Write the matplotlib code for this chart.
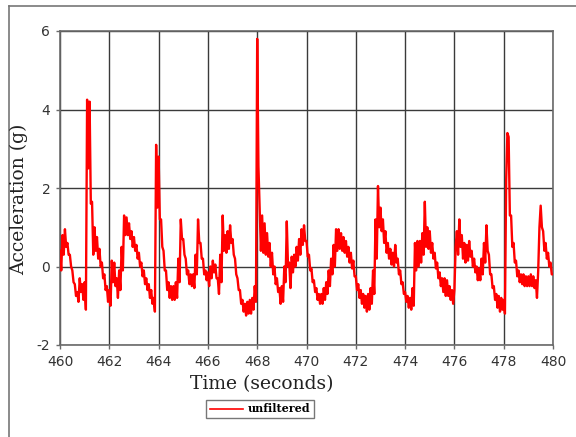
"""Unfiltered acceleration trace, 460-480 s."""

import matplotlib

matplotlib.use("Agg")
import matplotlib.pyplot as plt
import numpy as np
from matplotlib.lines import Line2D

plt.rcParams["axes.unicode_minus"] = False

# readings every 0.05 s, one row per second (noise band alternates high / low)
accel = [
    # 460
    0.4, -0.1, 0.8, 0.3, 0.95, 0.5, 0.6, 0.3, 0.3, 0.0,
    -0.1, -0.4, -0.45, -0.75, -0.65, -0.9, -0.3, -0.65, -0.45, -0.85,
    # 461
    -0.4, -1.1, 4.25, 2.5, 4.2, 1.6, 1.65, 0.3, 1.0, 0.4,
    0.75, 0.2, 0.45, 0.0, 0.1, -0.3, -0.2, -0.6, -0.5, -0.9,
    # 462
    -0.6, -1.0, 0.15, -0.4, 0.1, -0.5, -0.3, -0.8, -0.1, -0.6,
    0.5, -0.1, 1.3, 0.8, 1.25, 0.8, 1.1, 0.7, 0.9, 0.5,
    # 463
    0.75, 0.4, 0.55, 0.2, 0.35, 0.0, 0.1, -0.25, -0.1, -0.45,
    -0.3, -0.6, -0.45, -0.8, -0.6, -0.95, -0.8, -1.15, 3.1, 1.5,
    # 464
    2.8, 1.2, 1.2, 0.5, 0.4, -0.1, -0.1, -0.6, -0.4, -0.8,
    -0.5, -0.85, -0.5, -0.85, -0.4, -0.8, 0.2, -0.4, 1.2, 0.7,
    # 465
    0.7, 0.3, 0.2, -0.2, -0.1, -0.45, -0.2, -0.5, -0.2, -0.55,
    0.3, -0.2, 1.2, 0.6, 0.6, 0.2, 0.2, -0.2, -0.1, -0.35,
    # 466
    -0.15, -0.5, 0.0, -0.3, 0.15, -0.15, 0.05, -0.3, -0.3, -0.7,
    0.3, -0.4, 1.3, 0.4, 0.8, 0.35, 0.9, 0.45, 1.05, 0.6,
    # 467
    0.7, 0.3, 0.2, -0.2, -0.3, -0.6, -0.6, -0.95, -0.85, -1.15,
    -0.95, -1.25, -0.9, -1.2, -0.85, -1.2, -0.8, -1.1, -0.5, -0.9,
    # 468
    5.8, 2.55, 1.45, 0.4, 1.3, 0.35, 1.1, 0.3, 0.85, 0.25,
    0.6, 0.0, 0.35, -0.2, 0.0, -0.45, -0.3, -0.65, -0.55, -0.95,
    # 469
    -0.5, -0.9, 0.0, -0.4, 1.15, 0.0, 0.1, -0.55, 0.25, -0.15,
    0.3, 0.0, 0.5, 0.15, 0.7, 0.3, 0.95, 0.55, 1.05, 0.65,
    # 470
    0.65, 0.25, 0.3, -0.1, -0.05, -0.4, -0.35, -0.65, -0.55, -0.85,
    -0.7, -0.95, -0.7, -0.95, -0.55, -0.85, -0.4, -0.7, -0.1, -0.5,
    # 471
    0.2, -0.2, 0.55, 0.0, 0.95, 0.4, 0.95, 0.45, 0.85, 0.4,
    0.75, 0.35, 0.65, 0.25, 0.5, 0.1, 0.35, -0.05, 0.15, -0.25,
    # 472
    -0.25, -0.6, -0.45, -0.8, -0.6, -0.95, -0.7, -1.05, -0.75, -1.15,
    -0.7, -1.1, -0.55, -0.95, -0.1, -0.7, 1.2, 0.2, 2.05, 1.0,
    # 473
    1.5, 0.9, 1.2, 0.6, 0.9, 0.35, 0.6, 0.2, 0.45, 0.05,
    0.35, 0.0, 0.55, 0.1, 0.2, -0.2, -0.1, -0.45, -0.4, -0.7,
    # 474
    -0.65, -0.9, -0.75, -1.05, -0.8, -1.1, -0.55, -1.0, 0.6, -0.1,
    0.65, 0.0, 0.65, 0.1, 0.85, 0.3, 1.65, 0.5, 1.0, 0.45,
    # 475
    0.9, 0.35, 0.6, 0.2, 0.35, -0.05, 0.1, -0.3, -0.15, -0.5,
    -0.3, -0.65, -0.3, -0.75, -0.35, -0.75, -0.5, -0.85, -0.6, -0.95,
    # 476
    -0.6, 0.5, 0.9, 0.3, 1.2, 0.5, 0.8, 0.2, 0.6, 0.1,
    0.55, 0.15, 0.65, 0.25, 0.4, 0.0, 0.2, -0.15, 0.0, -0.35,
    # 477
    -0.05, -0.35, 0.2, -0.2, 0.6, 0.1, 1.05, 0.4, 0.3, -0.2,
    -0.2, -0.55, -0.5, -0.85, -0.7, -1.05, -0.75, -1.15, -0.8, -1.1,
    # 478
    -0.85, -1.2, 2.2, 3.4, 3.3, 1.3, 1.3, 0.5, 0.6, 0.1,
    0.15, -0.25, -0.1, -0.4, -0.2, -0.45, -0.2, -0.5, -0.25, -0.5,
    # 479
    -0.25, -0.5, -0.2, -0.5, -0.25, -0.55, -0.35, -0.8, -0.1, 1.0,
    1.55, 1.0, 0.9, 0.4, 0.6, 0.2, 0.35, 0.0, 0.1, -0.2,
    # 480
    -0.2,
]
t_start, t_end = 460, 480
x_ticks = [460, 462, 464, 466, 468, 470, 472, 474, 476, 478, 480]
y_ticks = [-2, 0, 2, 4, 6]

time = np.linspace(t_start, t_end, len(accel))

W, H = 576, 437
fig = plt.figure(figsize=(W / 100, H / 100), dpi=100)
ax = fig.add_axes([60 / W, 1 - 345 / H, (553 - 60) / W, (345 - 31) / H])

ax.plot(time, accel, color="#ff0000", lw=1.7, label="unfiltered", zorder=3)

ax.set_xlim(t_start, t_end)
ax.set_ylim(y_ticks[0], y_ticks[-1])
ax.set_xticks(x_ticks)
ax.set_yticks(y_ticks)
ax.grid(True, color="#3a3a3a", lw=1.0)
for s in ax.spines.values():
    s.set_color("#6a6a6a")
    s.set_linewidth(1.2)
ax.tick_params(direction="out", length=3, width=1, color="#6a6a6a",
               labelsize=10, pad=4, labelcolor="#333333")

fig.text(19 / W, 1 - 199 / H, "Acceleration (g)", rotation=90, ha="center",
         va="center", family="DejaVu Serif", fontsize=13.5, color="#222222")
fig.text(262 / W, 1 - 384 / H, "Time (seconds)", ha="center", va="center",
         family="DejaVu Serif", fontsize=13.5, color="#222222")

leg = fig.legend(handles=[Line2D([], [], color="#ff0000", lw=1.2)],
                 labels=["unfiltered"], loc="center",
                 bbox_to_anchor=(260 / W, 1 - 409 / H), fancybox=False,
                 framealpha=1, edgecolor="#777777", handlelength=3.0,
                 borderpad=0.3, handletextpad=0.4,
                 prop={"family": "DejaVu Serif", "size": 8, "weight": "bold"})
leg.get_frame().set_linewidth(1.0)

# outer frame (top and left edges only are inside the picture)
fig.add_artist(Line2D([9 / W, 9 / W], [0, 1 - 6 / H], color="#777777", lw=1.2))
fig.add_artist(Line2D([9 / W, 1], [1 - 6 / H, 1 - 6 / H], color="#777777", lw=1.2))

fig.savefig("out.png", dpi=100)
